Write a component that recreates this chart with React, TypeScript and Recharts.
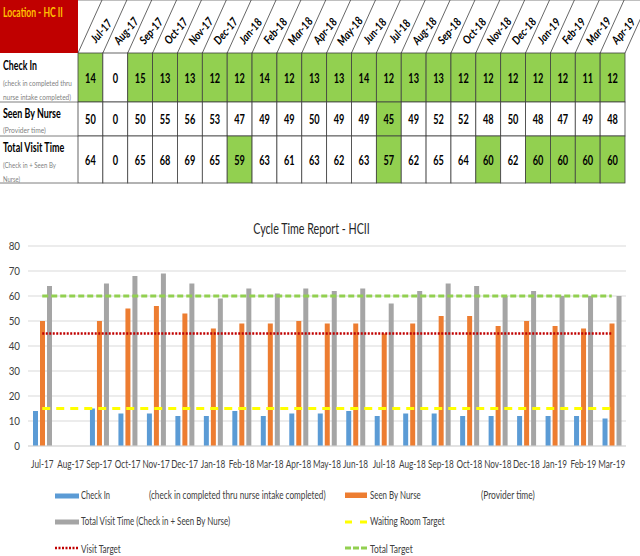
import { ComposedChart, Bar, Line, XAxis, YAxis, CartesianGrid } from "recharts";

const FONT = 'Lato, "Open Sans", sans-serif';

// table columns (22) – chart shows the first 21
const months = [
  "Jul-17", "Aug-17", "Sep-17", "Oct-17", "Nov-17", "Dec-17", "Jan-18", "Feb-18",
  "Mar-18", "Apr-18", "May-18", "Jun-18", "Jul-18", "Aug-18", "Sep-18", "Oct-18",
  "Nov-18", "Dec-18", "Jan-19", "Feb-19", "Mar-19", "Apr-19",
];
const checkIn = [14, 0, 15, 13, 13, 12, 12, 14, 12, 13, 13, 14, 12, 13, 13, 12, 12, 12, 12, 12, 11, 12];
const seenByNurse = [50, 0, 50, 55, 56, 53, 47, 49, 49, 50, 49, 49, 45, 49, 52, 52, 48, 50, 48, 47, 49, 48];
const totalVisit = [64, 0, 65, 68, 69, 65, 59, 63, 61, 63, 62, 63, 57, 62, 65, 64, 60, 62, 60, 60, 60, 60];
const chartMonths = months.slice(0, 21);

const waitingRoomTarget = 15;
const visitTarget = 45;
const totalTarget = 60;
const yTicks = [0, 10, 20, 30, 40, 50, 60, 70, 80];

const BLUE = "#5B9BD5";
const ORANGE = "#ED7D31";
const GRAY = "#A5A5A5";
const YELLOW = "#FFFF00";
const DARKRED = "#C00000";
const LGREEN = "#92D050";
const TXT = "#404040";

const chartData = chartMonths.map((m, i) => ({
  month: m,
  checkIn: checkIn[i],
  nurse: seenByNurse[i],
  total: totalVisit[i],
  waiting: waitingRoomTarget,
  visit: visitTarget,
  totalT: totalTarget,
}));

const TBL_L = 78;
const TBL_R = 625;
const CW = (TBL_R - TBL_L) / months.length;
const HEAD_H = 53;

const rows = [
  {
    label: "Check In", lw: 34, ty: 69.5,
    sub: [["(check in completed thru", 69, 85.7], ["nurse intake completed)", 68, 99.7]],
    values: checkIn, target: waitingRoomTarget, y0: 53, y1: 102,
  },
  {
    label: "Seen By Nurse", lw: 58, ty: 117.5,
    sub: [["(Provider time)", 43, 132.7]],
    values: seenByNurse, target: visitTarget, y0: 102, y1: 136,
  },
  {
    label: "Total Visit Time", lw: 62, ty: 151.5,
    sub: [["(Check in + Seen By", 53, 167.7], ["Nurse)", 17, 181.7]],
    values: totalVisit, target: totalTarget, y0: 136, y1: 183,
  },
];

let measureCtx: CanvasRenderingContext2D | null = null;
function textWidth(s: string, size: number, weight: string) {
  if (!measureCtx) measureCtx = document.createElement("canvas").getContext("2d");
  if (!measureCtx) return 0;
  measureCtx.font = `${weight} ${size}px ${FONT}`;
  return measureCtx.measureText(s).width;
}

// text squeezed horizontally to the width it has in the picture
function T(props: any) {
  const { x, y, w, size, weight = "normal", fill = TXT, anchor = "start", children } = props;
  const nat = textWidth(String(children), size, weight);
  const sx = nat > 0 ? w / nat : 1;
  return (
    <g transform={`translate(${x},${y}) scale(${sx.toFixed(3)},1)`}>
      <text x={0} y={0} fontSize={size} fontWeight={weight} fill={fill} textAnchor={anchor}>
        {children}
      </text>
    </g>
  );
}

function Overlay() {
  return (
    <svg width={640} height={556} style={{ position: "absolute", left: 0, top: 0, pointerEvents: "none" }} fontFamily={FONT}>
      {/* table */}
      <rect x={0} y={0} width={TBL_L} height={HEAD_H} fill="#C00000" />
      <T x={3} y={16.5} w={60} size={13} weight="bold" fill="#FFC000">Location - HC II</T>
      <line x1={TBL_L} y1={0.5} x2={640} y2={0.5} stroke="#BFBFBF" />
      {Array.from({ length: months.length + 1 }, (_, i) => (
        <line key={"d" + i} x1={TBL_L + i * CW} y1={HEAD_H} x2={TBL_L + i * CW + 24} y2={0} stroke="#404040" strokeWidth={0.8} />
      ))}
      {months.map((m, i) => (
        <g key={m} transform={`translate(${TBL_L + i * CW + CW / 2 + 11},${31}) rotate(-50) scale(0.85,1)`}>
          <text x={0} y={4} fontSize={11.5} fontWeight="bold" fontStyle="italic" fill="#000" textAnchor="middle">
            {m}
          </text>
        </g>
      ))}
      {rows.map((r) => (
        <g key={r.label}>
          {r.values.map((v, i) => (
            <g key={i}>
              <rect
                x={TBL_L + i * CW}
                y={r.y0}
                width={CW}
                height={r.y1 - r.y0}
                fill={v > 0 && v <= r.target ? LGREEN : "#fff"}
                stroke="#404040"
                strokeWidth={0.8}
              />
              <g transform={`translate(${TBL_L + i * CW + CW / 2},${(r.y0 + r.y1) / 2 + 5}) scale(0.68,1)`}>
                <text x={0} y={0} fontSize={13.5} fontWeight="bold" textAnchor="middle" fill="#000">
                  {v}
                </text>
              </g>
            </g>
          ))}
          <line x1={0} y1={r.y1} x2={TBL_L} y2={r.y1} stroke="#7F7F7F" strokeWidth={1} />
          <T x={3} y={r.ty} w={r.lw} size={13} weight="bold" fill="#000">{r.label}</T>
          {r.sub.map((s: any, k: number) => (
            <T key={k} x={3} y={s[2]} w={s[1]} size={7.5} fill="#7F7F7F">{s[0]}</T>
          ))}
        </g>
      ))}

      {/* title */}
      <T x={311.5} y={233.5} w={117} size={15.5} anchor="middle" fill="#262626">Cycle Time Report - HCII</T>

      {/* legend */}
      <rect x={55} y={493.5} width={24} height={5} fill={BLUE} />
      <T x={81} y={499} w={29} size={11}>Check In</T>
      <T x={149} y={499} w={177} size={11}>(check in completed thru nurse intake completed)</T>
      <rect x={345} y={492.5} width={22} height={5.5} fill={ORANGE} />
      <T x={370} y={499} w={51} size={11}>Seen By Nurse</T>
      <T x={481} y={499} w={54} size={11}>(Provider time)</T>

      <rect x={55} y={519.5} width={24} height={5} fill={GRAY} />
      <T x={81} y={525} w={152} size={11}>Total Visit Time  (Check in + Seen By Nurse)</T>
      <line x1={345} y1={522} x2={367} y2={522} stroke={YELLOW} strokeWidth={3} strokeDasharray="7 8" />
      <T x={370} y={525} w={75} size={11}>Waiting Room Target</T>

      <line x1={55} y1={548} x2={79} y2={548} stroke={DARKRED} strokeWidth={2.5} strokeDasharray="2 1.5" />
      <T x={81} y={553} w={40} size={11}>Visit Target</T>
      <line x1={345} y1={548} x2={367} y2={548} stroke={LGREEN} strokeWidth={3} strokeDasharray="6 2" />
      <T x={370} y={553} w={43} size={11}>Total Target</T>
    </svg>
  );
}

const XTick = (props: any) => {
  const { x, y, payload } = props;
  return (
    <g transform={`translate(${x},${y}) scale(0.78,1)`}>
      <text x={0} y={0} dy="0.71em" textAnchor="middle" fontSize={10.5} fill={TXT} fontFamily={FONT}>
        {payload.value}
      </text>
    </g>
  );
};

const YTick = (props: any) => {
  const { x, y, payload } = props;
  return (
    <g transform={`translate(${x},${y}) scale(0.85,1)`}>
      <text x={0} y={0} dy="0.36em" textAnchor="end" fontSize={11.5} fill={TXT} fontFamily={FONT}>
        {payload.value}
      </text>
    </g>
  );
};

export default function App() {
  return (
    <div style={{ position: "absolute", left: 0, top: 0, width: 640, height: 556, background: "#fff", fontFamily: FONT, overflow: "hidden" }}>
      <div style={{ position: "absolute", left: 0, top: 210 }}>
        <ComposedChart
          width={640}
          height={268}
          data={chartData}
          margin={{ top: 36, right: 14, left: 0, bottom: 0 }}
          barSize={5}
          barGap={2}
        >
          <CartesianGrid vertical={false} stroke="#D9D9D9" />
          <XAxis
            dataKey="month"
            height={32}
            tickLine={false}
            axisLine={{ stroke: "#D9D9D9" }}
            interval={0}
            tickMargin={9}
            tick={<XTick />}
          />
          <YAxis
            width={28}
            domain={[0, 80]}
            ticks={yTicks}
            tickLine={false}
            axisLine={false}
            tick={<YTick />}
          />
          <Bar dataKey="checkIn" fill={BLUE} isAnimationActive={false} />
          <Bar dataKey="nurse" fill={ORANGE} isAnimationActive={false} />
          <Bar dataKey="total" fill={GRAY} isAnimationActive={false} />
          <Line dataKey="waiting" stroke={YELLOW} strokeWidth={3} strokeDasharray="8 6" dot={false} isAnimationActive={false} />
          <Line dataKey="visit" stroke={DARKRED} strokeWidth={2.5} strokeDasharray="2 1.5" dot={false} isAnimationActive={false} />
          <Line dataKey="totalT" stroke={LGREEN} strokeWidth={3} strokeDasharray="6 3" dot={false} isAnimationActive={false} />
        </ComposedChart>
      </div>
      <Overlay />
    </div>
  );
}
